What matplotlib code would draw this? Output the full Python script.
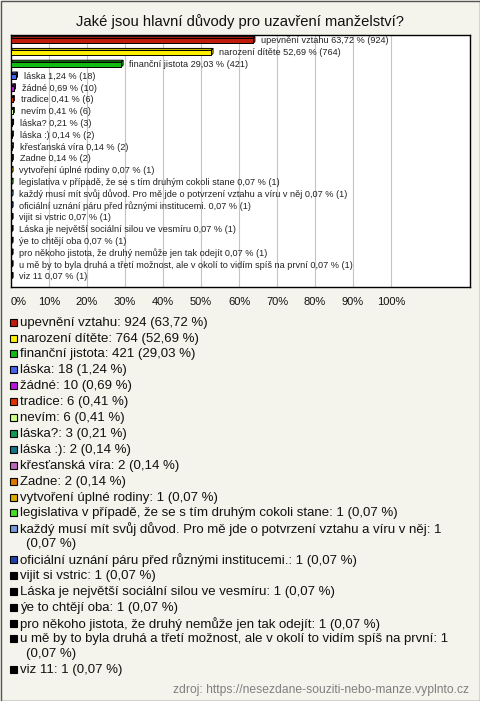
import textwrap

import matplotlib
matplotlib.use("Agg")
import matplotlib.pyplot as plt
from matplotlib.patches import Polygon, Rectangle

plt.rcParams['font.family'] = ['Liberation Sans', 'DejaVu Sans']

# data
title = "Jaké jsou hlavní důvody pro uzavření manželství?"
labels = [
    "upevnění vztahu", "narození dítěte", "finanční jistota", "láska", "žádné",
    "tradice", "nevím", "láska?", "láska :)", "křesťanská víra", "Zadne",
    "vytvoření úplné rodiny",
    "legislativa v případě, že se s tím druhým cokoli stane",
    "každý musí mít svůj důvod. Pro mě jde o potvrzení vztahu a víru v něj",
    "oficiální uznání páru před různými institucemi.",
    "vijit si vstric", "Láska je největší sociální silou ve vesmíru",
    "ýe to chtějí oba", "pro někoho jistota, že druhý nemůže jen tak odejít",
    "u mě by to byla druhá a třetí možnost, ale v okolí to vidím spíš na první",
    "viz 11",
]
counts = [924, 764, 421, 18, 10, 6, 6, 3, 2, 2, 2, 1, 1, 1, 1, 1, 1, 1, 1, 1, 1]
percents = [63.72, 52.69, 29.03, 1.24, 0.69, 0.41, 0.41, 0.21, 0.14, 0.14, 0.14,
            0.07, 0.07, 0.07, 0.07, 0.07, 0.07, 0.07, 0.07, 0.07, 0.07]
colors = ["#c01c0c", "#ffee00", "#11bb11", "#4466ee", "#bb11dd", "#dd3300",
          "#ccff88", "#119955", "#117788", "#bb66bb", "#dd7700", "#ddaa00",
          "#44dd22", "#7799dd", "#2244aa", "#000000", "#000000", "#000000",
          "#000000", "#000000", "#000000"]
x_ticks = [0, 10, 20, 30, 40, 50, 60, 70, 80, 90, 100]
source = "zdroj: https://nesezdane-souziti-nebo-manze.vyplnto.cz"

W, H = 480, 701
bg = "#f4f3ec"


def cz(v):
    return f"{v:.2f}".replace(".", ",")


fig = plt.figure(figsize=(W / 100, H / 100), dpi=100, facecolor=bg)

# overlay axes in pixel coordinates for title, legend and footer
lay = fig.add_axes([0, 0, 1, 1])
lay.set_xlim(0, W)
lay.set_ylim(H, 0)
lay.axis("off")
lay.add_patch(Rectangle((0.5, 0.5), W - 1, H - 1, fill=False, edgecolor="#555555", lw=1))
lay.text(W / 2, 22, title, ha="center", va="center", fontsize=10.6, color="#111111")

# bar chart area
left, right, top, bottom = 11, 470, 35, 287
ax = fig.add_axes([left / W, 1 - bottom / H, (right - left) / W, (bottom - top) / H])
ax.set_facecolor("white")
px_x = 3.8  # pixels per percent
px_y = (bottom - top) / (len(labels) + 0.36)
ax.set_xlim(0, (right - left) / px_x)
ax.set_ylim(len(labels) - 0.14, -0.5)
for t in x_ticks[1:]:
    ax.axvline(t, color="#c4c4c4", lw=0.8, zorder=0)

ypos = list(range(len(labels)))
h = 0.42
dx = 1.8 / px_x
dy = 1.8 / px_y
ax.barh(ypos, percents, height=h, color=colors, edgecolor="black", lw=0.7, zorder=3)
for y, v, c in zip(ypos, percents, colors):
    y0 = y - h / 2
    y1 = y + h / 2
    ax.add_patch(Polygon([(0, y0), (v, y0), (v + dx, y0 - dy), (dx, y0 - dy)],
                         closed=True, facecolor=c, edgecolor="black", lw=0.7, zorder=2))
    ax.add_patch(Polygon([(v, y0), (v + dx, y0 - dy), (v + dx, y1 - dy), (v, y1)],
                         closed=True, facecolor=c, edgecolor="black", lw=0.7, zorder=2))
for y, v, lab, n in zip(ypos, percents, labels, counts):
    ax.annotate(f"{lab} {cz(v)} % ({n})", (v + dx, y), xytext=(4.5, 0),
                textcoords="offset points", va="center", ha="left",
                fontsize=6.6, color="#222222")

ax.set_xticks(x_ticks)
ax.set_xticklabels([f"{t}%" for t in x_ticks], fontsize=8, color="#111111")
ax.get_xticklabels()[0].set_ha("left")
ax.set_yticks([])
ax.tick_params(axis="x", length=0, pad=7)
for s in ax.spines.values():
    s.set_color("black")
    s.set_linewidth(1)

# legend below the chart
y = 322.7
for lab, n, v, c in zip(labels, counts, percents, colors):
    lines = textwrap.wrap(f"{lab}: {n} ({cz(v)} %)", width=76)
    lay.add_patch(Rectangle((9.5, y - 4), 7, 7, facecolor=c, edgecolor="black", lw=0.8))
    lay.text(20, y, lines[0], ha="left", va="center", fontsize=9.5, color="#111111")
    for k, extra in enumerate(lines[1:], start=1):
        lay.text(26, y + 14.7 * k, extra, ha="left", va="center", fontsize=9.5, color="#111111")
    y += 15.9 + 14.7 * (len(lines) - 1)

lay.text(469, 690, source, ha="right", va="center", fontsize=8.7, color="#808080")

fig.savefig("out.png", dpi=100, facecolor=bg)
